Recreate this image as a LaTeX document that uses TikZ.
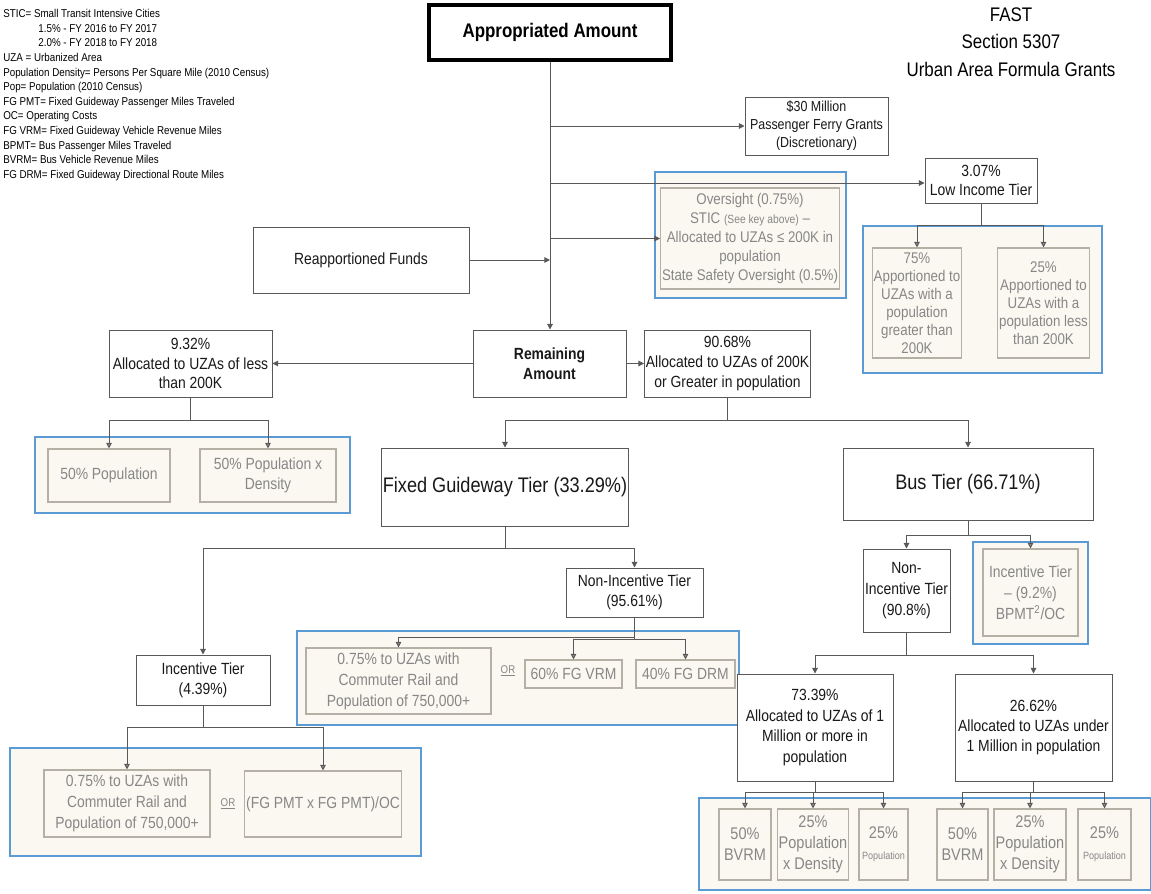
\documentclass[tikz,border=0pt]{standalone}
\usepackage{fontspec}
\setmainfont{Liberation Sans}[FakeStretch=0.86]
\usepackage{xcolor}
\usetikzlibrary{arrows.meta}
\definecolor{flowline}{HTML}{595959}
\definecolor{grpblue}{HTML}{5B9BD5}
\definecolor{tanfill}{HTML}{FBF8F1}
\definecolor{tanline}{HTML}{B5B0A6}
\definecolor{tantext}{HTML}{878787}
\newcommand{\fsz}[2]{\fontsize{#1}{#2}\selectfont}

\tikzset{
  sz/.style 2 args={minimum width=#1*0.025cm, minimum height=#2*0.025cm},
  plainbox/.style={draw=flowline, fill=white, line width=0.7pt, align=center,
    inner sep=1pt, text=black!90, font={\fsz{11.5}{14}}},
  tanbox/.style={draw=tanline, fill=tanfill, line width=0.8pt, align=center,
    inner sep=1pt, text=tantext, font={\fsz{11.5}{14}}},
  grpframe/.style={draw=grpblue, line width=2pt, fill=tanfill},
  link/.style={draw=flowline, line width=0.7pt},
  linkarr/.style={link, -{Triangle[length=4pt,width=4pt]}},
  tanarr/.style={link, -{Triangle[length=4pt,width=4pt,fill=flowline!70]}},
  ortext/.style={font={\fsz{8}{10}}, text=tantext, inner sep=1pt},
}

\begin{document}
\begin{tikzpicture}[x=0.025cm, y=-0.025cm]
\useasboundingbox (0,0) rectangle (1151,894);

% key and title
\node[anchor=north west, align=left, inner sep=0pt, font={\fsz{8.1}{10.4}}] (key) at (3,9)
  {STIC= Small Transit Intensive Cities\\
   \hspace*{25pt}1.5\% - FY 2016 to FY 2017\\
   \hspace*{25pt}2.0\% - FY 2018 to FY 2018\\
   UZA = Urbanized Area\\
   Population Density= Persons Per Square Mile (2010 Census)\\
   Pop= Population (2010 Census)\\
   FG PMT= Fixed Guideway Passenger Miles Traveled\\
   OC= Operating Costs\\
   FG VRM= Fixed Guideway Vehicle Revenue Miles\\
   BPMT= Bus Passenger Miles Traveled\\
   BVRM= Bus Vehicle Revenue Miles\\
   FG DRM= Fixed Guideway Directional Route Miles};
\node[align=center, font={\fsz{14}{19.5}}] (title) at (1011,42)
  {FAST\\Section 5307\\Urban Area Formula Grants};

% blue group frames
\draw[grpframe] (655,172) rectangle (846,298);
\draw[grpframe] (863,226) rectangle (1102,373);
\draw[grpframe] (35,437) rectangle (350,513);
\draw[grpframe] (297,631) rectangle (739,725);
\draw[grpframe] (10,748) rectangle (421,856);
\draw[grpframe] (973,542) rectangle (1088,644);
\draw[grpframe] (699,798) rectangle (1151,890);

% top part
\node[plainbox, sz={242}{55}, draw=black, line width=2.4pt, text=black, font={\fsz{14}{17}\bfseries}] (app) at (550,32.5) {Appropriated Amount};
\node[plainbox, sz={143}{58}, font={\fsz{10.3}{12.8}}] (ferry) at (816.5,126) {\$30 Million\\Passenger Ferry Grants\\(Discretionary)};
\node[plainbox, sz={112}{45}] (lowinc) at (981,180.5) {3.07\%\\Low Income Tier};
\node[tanbox, sz={166}{101}, font={\fsz{11}{13.5}}] (over) at (750,238.5)
  {Oversight (0.75\%)\\STIC {\fsz{8.5}{10}(See key above)} –\\Allocated to UZAs ≤ 200K in\\population\\State Safety Oversight (0.5\%)};
\node[plainbox, sz={216}{66}] (reapp) at (361,260) {Reapportioned Funds};
\node[tanbox, sz={82}{110}, font={\fsz{11}{12.8}}] (li75) at (917,303) {75\%\\Apportioned to\\UZAs with a\\population\\greater than\\200K};
\node[tanbox, sz={83}{110}, font={\fsz{11}{12.8}}] (li25) at (1043.5,303) {25\%\\Apportioned to\\UZAs with a\\population less\\than 200K};

% remaining amount split
\node[plainbox, sz={153}{67}, font={\fsz{11.5}{14.5}\bfseries}] (rem) at (549.5,363.5) {Remaining\\Amount};
\node[plainbox, sz={163}{67}] (less) at (190.5,363.5) {9.32\%\\Allocated to UZAs of less\\than 200K};
\node[plainbox, sz={165}{67}] (great) at (727.5,363.5) {90.68\%\\Allocated to UZAs of 200K\\or Greater in population};
\node[tanbox, sz={122}{53}] (p50) at (109,475.5) {50\% Population};
\node[tanbox, sz={136}{53}] (pd50) at (268,475.5) {50\% Population x\\Density};

% fixed guideway tier
\node[plainbox, sz={244}{78}, font={\fsz{15}{18}}] (fg) at (505,487) {Fixed Guideway Tier (33.29\%)};
\node[plainbox, sz={137}{49}] (fgni) at (634.5,592.5) {Non-Incentive Tier\\(95.61\%)};
\node[tanbox, sz={185}{66}, font={\fsz{11.5}{15}}] (ni1) at (398.5,681) {0.75\% to UZAs with\\Commuter Rail and\\Population of 750,000+};
\node[ortext] (or1) at (508,671) {\underline{OR}};
\node[tanbox, sz={97}{28}] (vrm) at (573.5,674) {60\% FG VRM};
\node[tanbox, sz={99}{28}] (drm) at (685.5,674) {40\% FG DRM};
\node[plainbox, sz={134}{50}] (fgi) at (203,680) {Incentive Tier\\(4.39\%)};
\node[tanbox, sz={166}{67}, font={\fsz{11.5}{15}}] (ni2) at (127,803.5) {0.75\% to UZAs with\\Commuter Rail and\\Population of 750,000+};
\node[ortext] (or2) at (228,804) {\underline{OR}};
\node[tanbox, sz={156}{66}] (pmt) at (323,804) {(FG PMT x FG PMT)/OC};

% bus tier
\node[plainbox, sz={250}{72}, font={\fsz{15}{18}}] (bus) at (968,484) {Bus Tier (66.71\%)};
\node[plainbox, sz={87}{83}, font={\fsz{11.5}{15}}] (busni) at (906.5,590.5) {Non-\\Incentive Tier\\(90.8\%)};
\node[tanbox, sz={95}{87}, font={\fsz{11.5}{15}}] (busi) at (1030.5,592.5) {Incentive Tier\\– (9.2\%)\\BPMT\textsuperscript{2}/OC};
\node[plainbox, sz={156}{107}, font={\fsz{11.5}{14.5}}] (m1) at (815,727.5) {73.39\%\\Allocated to UZAs of 1\\Million or more in\\population};
\node[plainbox, sz={157}{107}, font={\fsz{11.5}{14.5}}] (m2) at (1033.5,727.5) {26.62\%\\Allocated to UZAs under\\1 Million in population};
\node[tanbox, sz={52}{71}, font={\fsz{12}{15}}] (b1) at (745,844.5) {50\%\\BVRM};
\node[tanbox, sz={68}{71}, font={\fsz{12}{15}}] (b2) at (813,844.5) {25\%\\Population\\x Density};
\node[tanbox, sz={49}{71}, font={\fsz{12}{15}}] (b3) at (883.5,844.5) {25\%\\{\fsz{7.5}{12}Population}};
\node[tanbox, sz={51}{71}, font={\fsz{12}{15}}] (b4) at (962.5,844.5) {50\%\\BVRM};
\node[tanbox, sz={72}{71}, font={\fsz{12}{15}}] (b5) at (1030,844.5) {25\%\\Population\\x Density};
\node[tanbox, sz={53}{71}, font={\fsz{12}{15}}] (b6) at (1104.5,844.5) {25\%\\{\fsz{7.5}{12}Population}};

% connectors
\draw[linkarr] (app.south) -- (app.south |- rem.north);
\draw[linkarr] (app.south |- ferry.west) -- (ferry.west);
\draw[linkarr] (app.south |- 0,183) -- (lowinc.west |- 0,183);
\draw[linkarr] (app.south |- over.west) -- (over.west);
\draw[linkarr] (reapp.east) -- (reapp.east -| app.south);
\draw[linkarr] (rem.west) -- (less.east);
\draw[linkarr] (rem.east) -- (great.west);
\draw[tanarr] (lowinc.south) -- ++(0,22) -| (li75.north);
\draw[tanarr] (lowinc.south) -- ++(0,22) -| (li25.north);
\draw[tanarr] (less.south) -- ++(0,23) -| (p50.north);
\draw[tanarr] (less.south) -- ++(0,23) -| (pd50.north);
\draw[linkarr] (great.south) -- ++(0,23) -| (fg.north);
\draw[linkarr] (great.south) -- ++(0,23) -| (bus.north);
\draw[linkarr] (fg.south) -- ++(0,22) -| (fgi.north);
\draw[linkarr] (fg.south) -- ++(0,22) -| (fgni.north);
\draw[tanarr] (fgni.south) -- ++(0,20) -| (ni1.north);
\draw[tanarr] (fgni.south) -- ++(0,22) -| (vrm.north);
\draw[tanarr] (fgni.south) -- ++(0,22) -| (drm.north);
\draw[tanarr] (fgi.south) -- ++(0,22) -| (ni2.north);
\draw[tanarr] (fgi.south) -- ++(0,22) -| (pmt.north);
\draw[linkarr] (bus.south) -- ++(0,15) -| (busni.north);
\draw[tanarr] (bus.south) -- ++(0,15) -| (busi.north);
\draw[linkarr] (busni.south) -- ++(0,23) -| (m1.north);
\draw[linkarr] (busni.south) -- ++(0,23) -| (m2.north);
\foreach \leaf in {b1,b2,b3}
  \draw[tanarr] (m1.south) -- ++(0,11) -| (\leaf.north);
\foreach \leaf in {b4,b5,b6}
  \draw[tanarr] (m2.south) -- ++(0,11) -| (\leaf.north);
\end{tikzpicture}
\end{document}
